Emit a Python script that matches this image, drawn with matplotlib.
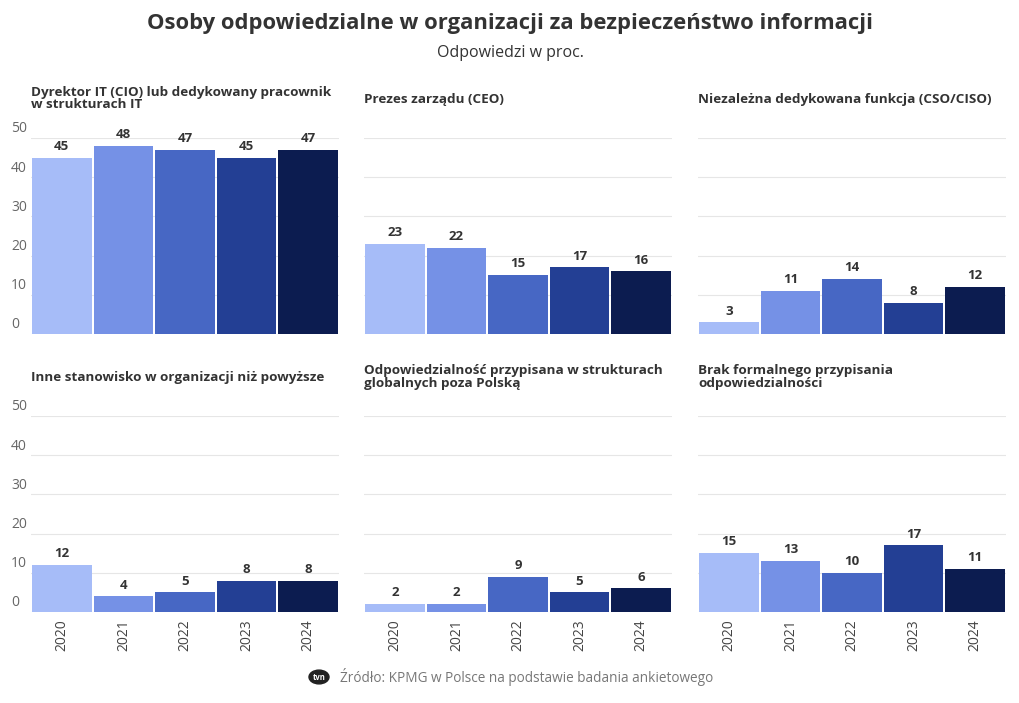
import matplotlib
matplotlib.use("Agg")
import matplotlib.pyplot as plt

plt.rcParams['font.family'] = ['Open Sans', 'DejaVu Sans']

years = ["2020", "2021", "2022", "2023", "2024"]
colors = ["#a6bcf8", "#7591e6", "#4767c4", "#233f94", "#0c1c50"]

titles = [
    "Dyrektor IT (CIO) lub dedykowany pracownik\nw strukturach IT",
    "Prezes zarządu (CEO)",
    "Niezależna dedykowana funkcja (CSO/CISO)",
    "Inne stanowisko w organizacji niż powyższe",
    "Odpowiedzialność przypisana w strukturach\nglobalnych poza Polską",
    "Brak formalnego przypisania\nodpowiedzialności",
]
cio = [45, 48, 47, 45, 47]
ceo = [23, 22, 15, 17, 16]
ciso = [3, 11, 14, 8, 12]
inne = [12, 4, 5, 8, 8]
globalne = [2, 2, 9, 5, 6]
brak = [15, 13, 10, 17, 11]
series = [cio, ceo, ciso, inne, globalne, brak]
yticks = [0, 10, 20, 30, 40, 50]

W, H = 1020, 703
fig = plt.figure(figsize=(W / 100, H / 100), dpi=100)

lefts = [31, 364, 698]
bottoms = [334, 612]
aw, ah = 308, 196

for i, vals in enumerate(series):
    r, c = divmod(i, 3)
    ax = fig.add_axes([lefts[c] / W, (H - bottoms[r]) / H, aw / W, ah / H])
    x = range(len(years))
    bars = ax.bar(x, vals, width=0.97, color=colors, zorder=2)
    for b, v in zip(bars, vals):
        ax.text(b.get_x() + b.get_width() / 2, v + 1.2, str(v), ha="center",
                va="bottom", fontsize=9.5, fontweight="bold", color="#333333")
    ax.set_xlim(-0.5, 4.5)
    ax.set_ylim(0, 50)
    ax.set_yticks(yticks)
    ax.set_yticklabels([])
    ax.grid(axis="y", color="#e6e6e6", linewidth=0.8, zorder=0)
    for s in ax.spines.values():
        s.set_visible(False)
    ax.tick_params(axis="both", length=0, colors="#555555", labelsize=10)
    if c == 0:
        for t in yticks:
            ax.text(-20 / aw, t + 0.4, str(t), transform=ax.get_yaxis_transform(),
                    ha="left", va="bottom", fontsize=10, color="#666666")
    ax.set_xticks(list(x))
    if r == 1:
        ax.set_xticklabels(years, rotation=90, color="#444444")
        ax.tick_params(axis="x", pad=5)
    else:
        ax.set_xticklabels([])
    ax.text(0, 1.0 + 52 / ah if "\n" in titles[i] else 1.0 + 45 / ah, titles[i],
            transform=ax.transAxes, ha="left", va="top", fontsize=9.7,
            fontweight="bold", color="#333333", linespacing=0.95)

fig.text(0.5, 1 - 24 / H, "Osoby odpowiedzialne w organizacji za bezpieczeństwo informacji",
         ha="center", va="center", fontsize=15.8, fontweight="bold", color="#333333")
fig.text(0.5, 1 - 53 / H, "Odpowiedzi w proc.", ha="center", va="center",
         fontsize=11.5, color="#333333")

fig.patches.append(matplotlib.patches.Circle((319 / W, 1 - 677 / H), 10 / W,
                   transform=fig.transFigure, color="#222222"))
fig.text(319 / W, 1 - 677 / H, "tvn", ha="center", va="center", fontsize=5.5,
         fontweight="bold", color="white")
fig.text(340 / W, 1 - 677 / H, "Źródło: KPMG w Polsce na podstawie badania ankietowego",
         ha="left", va="center", fontsize=9.8, color="#777777")

fig.savefig("out.png", dpi=100)
